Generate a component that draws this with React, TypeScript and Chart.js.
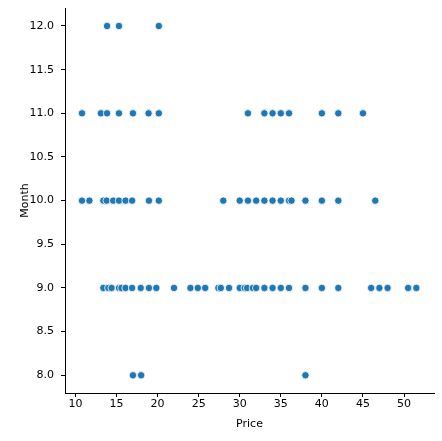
import React, { useEffect, useRef } from "react";
import { Chart, registerables } from "chart.js";

Chart.register(...registerables);

// prices, one list per month
const months = [8, 9, 10, 11, 12];
const pricesAug = [17.0, 18.0, 38.0];
const pricesSep = [
  13.4, 14.0, 14.4, 15.3, 15.6, 16.1, 16.9, 17.95, 18.95, 19.85, 22.0, 24.0,
  24.9, 25.8, 27.4, 27.7, 28.7, 30.0, 30.6, 30.9, 31.6, 32.0, 33.0, 34.0,
  35.0, 36.0, 38.0, 40.0, 42.0, 46.0, 47.0, 48.0, 50.5, 51.5,
];
const pricesOct = [
  10.8, 11.7, 13.4, 13.8, 14.6, 15.3, 16.1, 16.9, 18.95, 20.15, 28.0, 30.0,
  31.0, 32.0, 33.0, 34.0, 35.0, 36.0, 36.3, 38.0, 40.0, 42.0, 46.5,
];
const pricesNov = [
  10.8, 13.1, 13.85, 15.3, 17.0, 18.9, 20.15, 31.0, 33.0, 34.0, 35.0, 36.0,
  40.0, 42.0, 45.0,
];
const pricesDec = [13.85, 15.3, 20.15];

const pricesByMonth = [pricesAug, pricesSep, pricesOct, pricesNov, pricesDec];

const FONT = { family: "'DejaVu Sans', sans-serif", size: 11 };

const ScatterChart: React.FC = () => {
  const canvasRef = useRef<HTMLCanvasElement | null>(null);
  const chartRef = useRef<Chart | null>(null);

  useEffect(() => {
    const ctx = canvasRef.current;
    if (!ctx) return;
    if (chartRef.current) chartRef.current.destroy();

    const points = months.flatMap((m, i) =>
      pricesByMonth[i].map((p) => ({ x: p, y: m }))
    );

    chartRef.current = new Chart(ctx, {
      type: "scatter",
      data: {
        datasets: [
          {
            data: points,
            backgroundColor: "#1f77b4",
            borderColor: "#ffffff",
            borderWidth: 0.8,
            pointRadius: 3.7,
          },
        ],
      },
      options: {
        animation: false,
        responsive: true,
        maintainAspectRatio: false,
        layout: { padding: { top: 8, right: 8, left: 0, bottom: 0 } },
        plugins: { legend: { display: false }, tooltip: { enabled: false } },
        scales: {
          x: {
            type: "linear",
            min: 8.73,
            max: 53.65,
            afterFit: (scale: any) => {
              scale.height = 48;
              scale.paddingLeft = 0;
              scale.paddingRight = 0;
            },
            grid: {
              drawOnChartArea: false,
              drawTicks: true,
              tickLength: 4,
              color: "#000",
            },
            border: { color: "#000", width: 1 },
            ticks: {
              stepSize: 5,
              includeBounds: false,
              padding: 1,
              color: "#000",
              font: FONT,
              maxRotation: 0,
            },
            title: {
              display: true,
              text: "Price",
              color: "#000",
              font: FONT,
              padding: { top: 0, bottom: 10 },
            },
          },
          y: {
            type: "linear",
            min: 7.797,
            max: 12.206,
            afterFit: (scale: any) => {
              scale.width = 65;
              scale.paddingTop = 0;
              scale.paddingBottom = 0;
            },
            grid: {
              drawOnChartArea: false,
              drawTicks: true,
              tickLength: 4,
              color: "#000",
            },
            border: { color: "#000", width: 1 },
            ticks: {
              stepSize: 0.5,
              includeBounds: false,
              padding: 7,
              color: "#000",
              font: FONT,
              callback: (v: any) => Number(v).toFixed(1),
            },
            title: {
              display: true,
              text: "Month",
              color: "#000",
              font: FONT,
              padding: { top: 19, bottom: 0 },
            },
          },
        },
      },
    });

    return () => {
      if (chartRef.current) {
        chartRef.current.destroy();
        chartRef.current = null;
      }
    };
  }, []);

  return (
    <div
      style={{
        position: "fixed",
        left: 0,
        top: 0,
        width: 442,
        height: 441,
        background: "#fff",
      }}
    >
      <canvas ref={canvasRef}></canvas>
    </div>
  );
};

export default function App() {
  return <ScatterChart />;
}
